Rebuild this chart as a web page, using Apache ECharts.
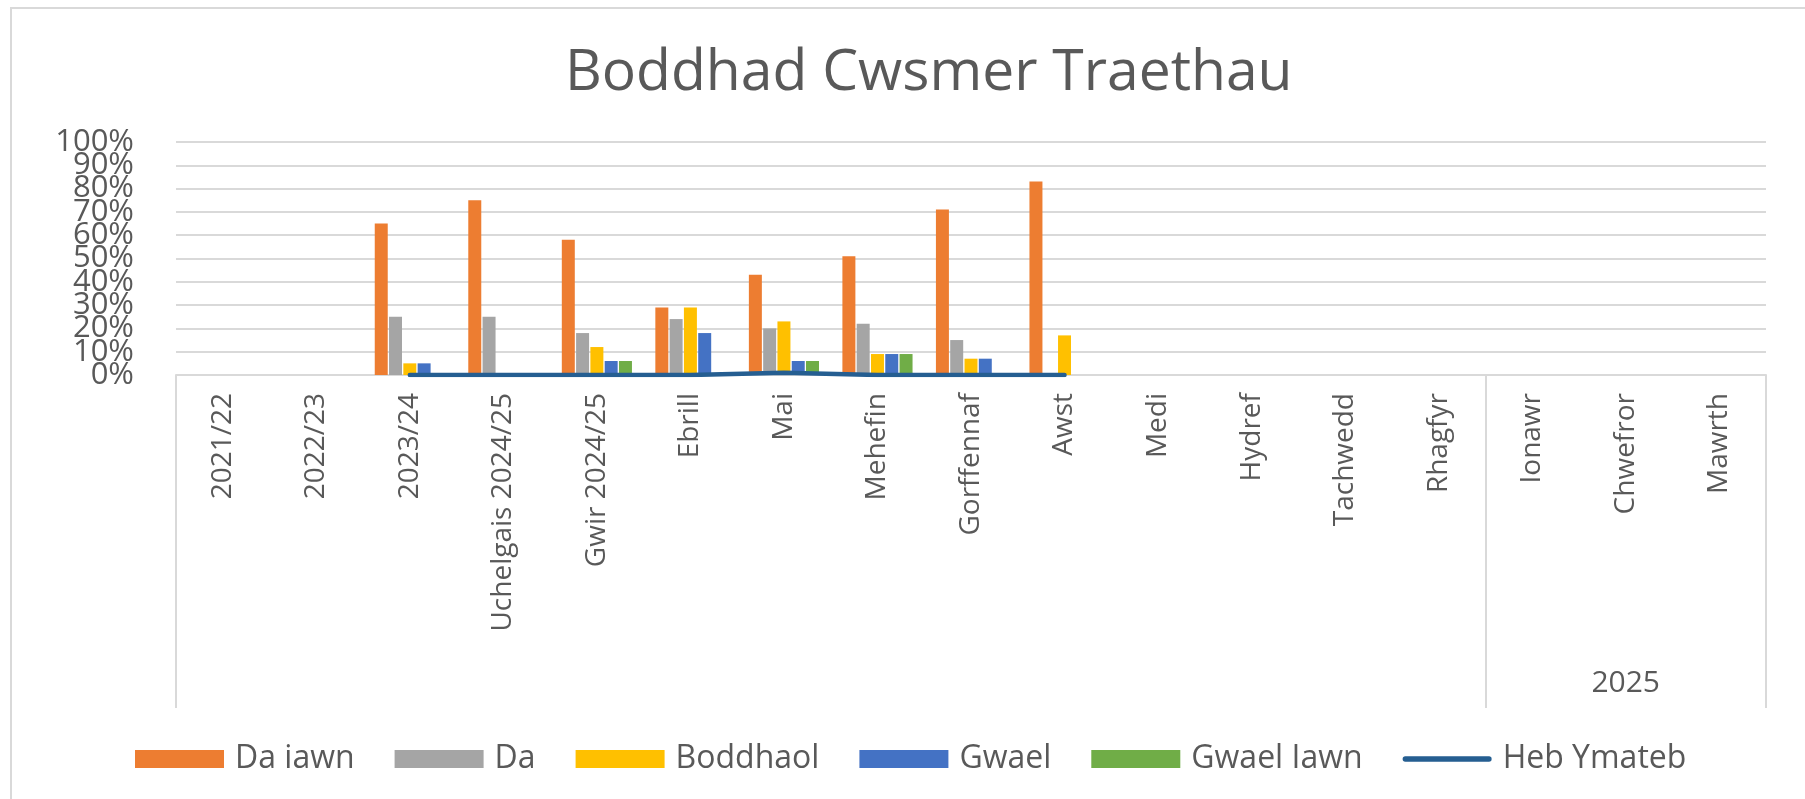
<!DOCTYPE html>
<html>
<head>
    <meta charset="utf-8" />
    <title>Boddhad Cwsmer Traethau</title>
    <script src="https://cdn.jsdelivr.net/npm/echarts@6.0.0/dist/echarts.min.js" type="text/javascript"></script>
    <style>
        html,body{
            width: 100%;
            height: 100%;
            margin: 0px;
            padding: 0px;
            background: #fff;
        }
        #main{
            width: 1805px;
            height: 799px;
        }
    </style>
</head>

<body>
    <div id="main"></div>
</body>
<script type="text/javascript">
    // categories along the bottom, plus the second (group) row
    var categories = ['2021/22', '2022/23', '2023/24', 'Uchelgais 2024/25', 'Gwir 2024/25',
        'Ebrill', 'Mai', 'Mehefin', 'Gorffennaf', 'Awst', 'Medi', 'Hydref', 'Tachwedd',
        'Rhagfyr', 'Ionawr', 'Chwefror', 'Mawrth'];
    var groupLabels = ['', '', '', '', '', '', '', '', '', '', '', '', '', '', '', '2025', ''];

    // percentages
    var daIawn    = [null, null, 65, 75, 58, 29, 43, 51, 71, 83, null, null, null, null, null, null, null];
    var da        = [null, null, 25, 25, 18, 24, 20, 22, 15, 0, null, null, null, null, null, null, null];
    var boddhaol  = [null, null, 5, 0, 12, 29, 23, 9, 7, 17, null, null, null, null, null, null, null];
    var gwael     = [null, null, 5, 0, 6, 18, 6, 9, 7, 0, null, null, null, null, null, null, null];
    var gwaelIawn = [null, null, 0, 0, 6, 0, 6, 9, 0, 0, null, null, null, null, null, null, null];
    var hebYmateb = [null, null, 0, 0, 0, 0, 1, 0, 0, 0, null, null, null, null, null, null, null];

    var font = 'Open Sans';
    var textGrey = '#595959';
    var lineGrey = '#D9D9D9';

    var myChart = echarts.init(document.getElementById('main'));

    function bar(name, color, values) {
        return {
            name: name,
            type: 'bar',
            data: values,
            barGap: '10%',
            barCategoryGap: '25%',
            itemStyle: { color: color }
        };
    }

    // the % labels are taller than the grid step, so they are split over two
    // overlaid axes (even tens / odd tens) to stop echarts dropping any of them
    function percentAxis(even, showGrid) {
        return {
            type: 'value',
            position: 'left',
            min: 0,
            max: 100,
            interval: 10,
            axisLine: { show: false },
            axisTick: { show: false },
            splitLine: { show: showGrid, lineStyle: { color: lineGrey, width: 2 } },
            axisLabel: {
                formatter: function (v) {
                    return ((v / 10) % 2 === 0) === even ? v + '%' : '';
                },
                margin: 42,
                color: textGrey,
                fontFamily: font,
                fontSize: 31
            }
        };
    }

    myChart.setOption({
        backgroundColor: '#fff',
        animation: false,
        title: {
            text: 'Boddhad Cwsmer Traethau',
            left: 560,
            top: 40,
            textStyle: {
                color: textGrey,
                fontFamily: font,
                fontWeight: 'normal',
                fontSize: 57
            }
        },
        graphic: [{
            type: 'rect',
            silent: true,
            shape: { x: 11, y: 8, width: 1810, height: 810 },
            style: { fill: 'none', stroke: lineGrey, lineWidth: 2 }
        }],
        legend: {
            left: 130,
            top: 738,
            itemWidth: 89,
            itemHeight: 18,
            itemGap: 40,
            textStyle: {
                color: textGrey,
                fontFamily: font,
                fontSize: 32,
                padding: [0, 0, 0, 6]
            },
            data: [
                { name: 'Da iawn', icon: 'rect' },
                { name: 'Da', icon: 'rect' },
                { name: 'Boddhaol', icon: 'rect' },
                { name: 'Gwael', icon: 'rect' },
                { name: 'Gwael Iawn', icon: 'rect' },
                { name: 'Heb Ymateb', icon: 'path://M3,0 L97,0 A3,3 0 0 1 97,6 L3,6 A3,3 0 0 1 3,0 Z' }
            ]
        },
        grid: {
            left: 176,
            right: 39,
            top: 142,
            bottom: 424
        },
        xAxis: [{
            type: 'category',
            data: categories,
            axisLine: { show: true, lineStyle: { color: lineGrey, width: 2 } },
            axisTick: {
                show: true,
                // group separators of the two-level axis
                interval: function (index) { return index === 0 || index === 14; },
                length: 333,
                lineStyle: { color: lineGrey, width: 2 }
            },
            axisLabel: {
                interval: 0,
                rotate: 90,
                margin: 18,
                color: textGrey,
                fontFamily: font,
                fontSize: 28
            }
        }, {
            type: 'category',
            data: groupLabels,
            position: 'bottom',
            offset: 285,
            axisLine: { show: false },
            axisTick: { show: false },
            axisLabel: {
                interval: 0,
                color: textGrey,
                fontFamily: font,
                fontSize: 30
            }
        }],
        yAxis: [percentAxis(true, true), percentAxis(false, false)],
        series: [
            bar('Da iawn', '#ED7D31', daIawn),
            bar('Da', '#A5A5A5', da),
            bar('Boddhaol', '#FFC000', boddhaol),
            bar('Gwael', '#4472C4', gwael),
            bar('Gwael Iawn', '#70AD47', gwaelIawn),
            {
                name: 'Heb Ymateb',
                type: 'line',
                data: hebYmateb,
                symbol: 'none',
                z: 5,
                lineStyle: { color: '#255E91', width: 4.5, cap: 'round' },
                itemStyle: { color: '#255E91' }
            }
        ]
    });

    window.addEventListener('resize', function () {
        myChart.resize();
    });
</script>

</html>
